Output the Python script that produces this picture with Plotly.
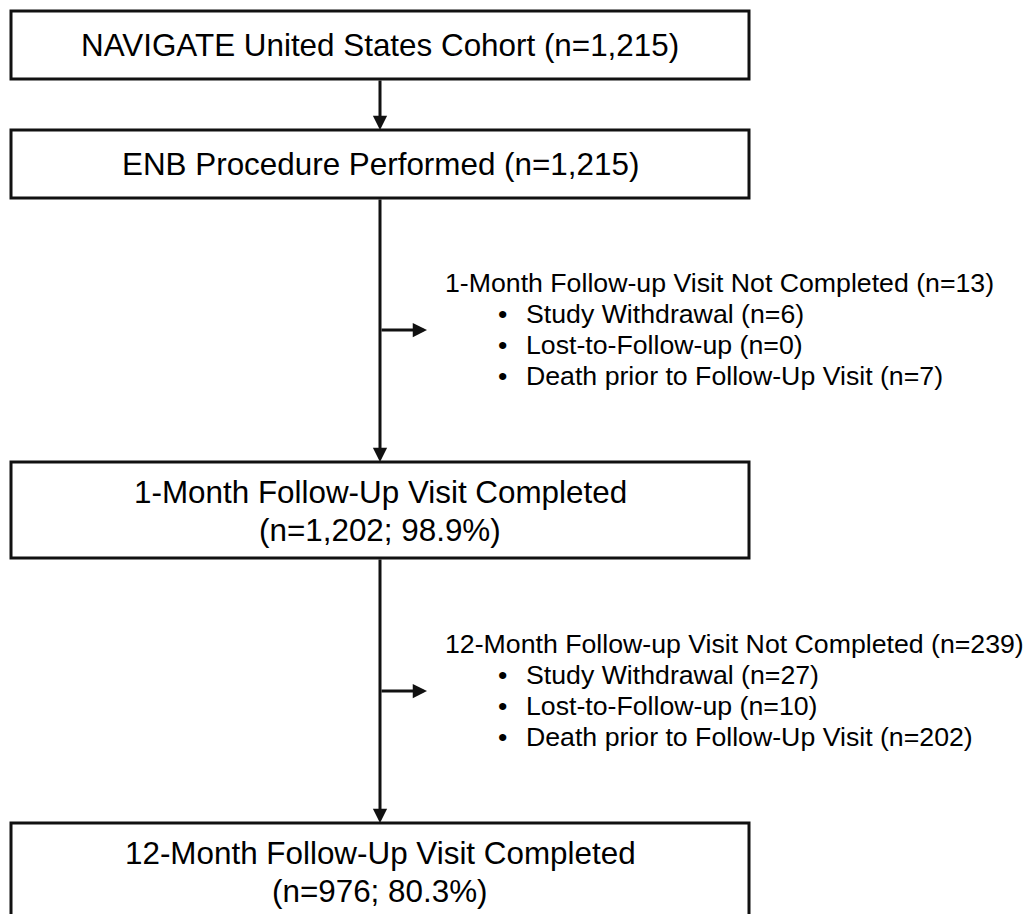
import plotly.graph_objects as go

# ---- data ----
box_labels = ["NAVIGATE United States Cohort", "ENB Procedure Performed",
              "1-Month Follow-Up Visit Completed", "12-Month Follow-Up Visit Completed"]
box_n = [1215, 1215, 1202, 976]
box_pct = [None, None, 98.9, 80.3]
excl_headers = ["1-Month Follow-up Visit Not Completed", "12-Month Follow-up Visit Not Completed"]
excl_n = [13, 239]
reasons = ["Study Withdrawal", "Lost-to-Follow-up", "Death prior to Follow-Up Visit"]
reason_n = [[6, 0, 7], [27, 10, 202]]

# ---- layout geometry (page pixels; the page body has an 8px margin) ----
W, H = 1031, 914
OFF = 8
box_x0, box_x1 = 11, 749
box_top = [11, 130, 462, 823]
box_bot = [79, 198, 558, 940]
cx = 380
FONT = "Liberation Sans, Arial, sans-serif"
BOX_FS = 31.4
SIDE_FS = 26.7
line_col = "#111111"

fig = go.Figure()
fig.add_trace(go.Scatter(x=[OFF, W + OFF], y=[OFF, H + OFF], mode="markers",
                         marker=dict(opacity=0), hoverinfo="skip", showlegend=False))

shapes = []
annotations = []

for i, lab in enumerate(box_labels):
    shapes.append(dict(type="rect", xref="x", yref="y", x0=box_x0, x1=box_x1,
                       y0=box_top[i], y1=box_bot[i], line=dict(color=line_col, width=3),
                       fillcolor="white", layer="below"))
    ntxt = f"{box_n[i]:,}"
    if box_pct[i] is None:
        annotations.append(dict(x=cx, y=(box_top[i] + box_bot[i]) / 2, xref="x", yref="y",
                                text=f"{lab} (n={ntxt})", showarrow=False,
                                font=dict(family=FONT, size=BOX_FS, color="black"),
                                xanchor="center", yanchor="middle"))
    else:
        y1 = box_top[i] + 30
        annotations.append(dict(x=cx, y=y1, xref="x", yref="y", text=lab, showarrow=False,
                                font=dict(family=FONT, size=BOX_FS, color="black"),
                                xanchor="center", yanchor="middle"))
        annotations.append(dict(x=cx, y=y1 + 38, xref="x", yref="y",
                                text=f"(n={ntxt}; {box_pct[i]}%)", showarrow=False,
                                font=dict(family=FONT, size=BOX_FS, color="black"),
                                xanchor="center", yanchor="middle"))

# vertical arrows between boxes
for i in range(len(box_labels) - 1):
    annotations.append(dict(x=cx, y=box_top[i + 1], ax=cx, ay=box_bot[i], xref="x", yref="y",
                            axref="x", ayref="y", showarrow=True, arrowhead=2, arrowsize=0.95,
                            arrowwidth=3, arrowcolor=line_col, standoff=0, text=""))

# exclusion branches
branch_y = [330, 691]
header_y = [283, 644]
for g in range(2):
    annotations.append(dict(x=427, y=branch_y[g], ax=cx, ay=branch_y[g], xref="x", yref="y",
                            axref="x", ayref="y", showarrow=True, arrowhead=2, arrowsize=0.95,
                            arrowwidth=3, arrowcolor=line_col, standoff=0, text=""))
    annotations.append(dict(x=443, y=header_y[g], xref="x", yref="y",
                            text=f"{excl_headers[g]} (n={excl_n[g]})", showarrow=False,
                            font=dict(family=FONT, size=SIDE_FS, color="black"),
                            xanchor="left", yanchor="middle"))
    for k, r in enumerate(reasons):
        yy = header_y[g] + 31 * (k + 1)
        annotations.append(dict(x=496, y=yy, xref="x", yref="y", text="•", showarrow=False,
                                font=dict(family=FONT, size=SIDE_FS, color="black"),
                                xanchor="left", yanchor="middle"))
        annotations.append(dict(x=524, y=yy, xref="x", yref="y",
                                text=f"{r} (n={reason_n[g][k]})", showarrow=False,
                                font=dict(family=FONT, size=SIDE_FS, color="black"),
                                xanchor="left", yanchor="middle"))

fig.update_layout(
    width=W, height=H, autosize=False,
    margin=dict(l=0, r=0, t=0, b=0),
    paper_bgcolor="white", plot_bgcolor="white",
    xaxis=dict(range=[OFF, W + OFF], visible=False, fixedrange=True),
    yaxis=dict(range=[H + OFF, OFF], visible=False, fixedrange=True),
    shapes=shapes, annotations=annotations, showlegend=False,
)

fig.write_html("out.html")
